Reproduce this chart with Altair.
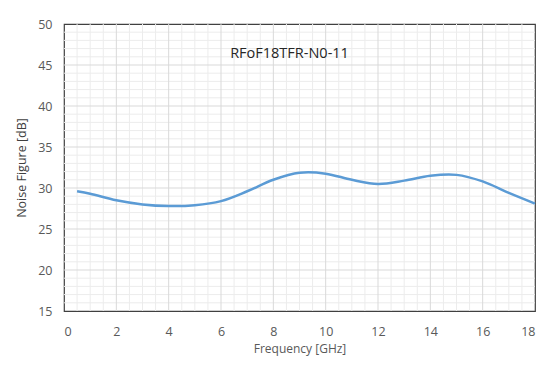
import altair as alt
import pandas as pd
import numpy as np

freq = [0.5, 1, 2, 3, 4, 5, 6, 7, 8, 9, 10, 11, 12, 13, 14, 15, 16, 17, 18]
nf = [29.6, 29.3, 28.5, 28.0, 27.8, 27.9, 28.4, 29.6, 31.0, 31.85, 31.75, 31.0, 30.5, 30.9, 31.5, 31.6, 30.8, 29.4, 28.1]

x_ticks = list(range(0, 19, 2))
y_ticks = list(range(15, 51, 5))
x_major = x_ticks[1:-1]
y_major = y_ticks[1:-1]
x_minor = [v for v in np.arange(0, 18.01, 0.5).tolist() if v not in x_ticks]
y_minor = [v for v in range(15, 51) if v not in y_ticks]

df = pd.DataFrame({"f": freq, "nf": nf})

xs = alt.Scale(domain=[0, 18], nice=False, zero=False)
ys = alt.Scale(domain=[15, 50], nice=False, zero=False)

minor_x = alt.Chart(pd.DataFrame({"v": x_minor})).mark_rule(color="#ececec", strokeWidth=1).encode(
    x=alt.X("v:Q", scale=xs))
minor_y = alt.Chart(pd.DataFrame({"v": y_minor})).mark_rule(color="#ececec", strokeWidth=1).encode(
    y=alt.Y("v:Q", scale=ys))
major_x = alt.Chart(pd.DataFrame({"v": x_major})).mark_rule(color="#d9d9d9", strokeWidth=1).encode(
    x=alt.X("v:Q", scale=xs))
major_y = alt.Chart(pd.DataFrame({"v": y_major})).mark_rule(color="#d9d9d9", strokeWidth=1).encode(
    y=alt.Y("v:Q", scale=ys))

line = alt.Chart(df).mark_line(color="#5b9bd5", strokeWidth=2.5, interpolate="catmull-rom").encode(
    x=alt.X("f:Q", scale=xs, axis=alt.Axis(
        title="Frequency [GHz]", values=x_ticks, grid=False, ticks=False, domain=False,
        labelColor="#595959", labelFont="Open Sans", labelFontSize=12.5, labelPadding=14,
        titleColor="#595959", titleFont="Open Sans", titleFontSize=12, titleFontWeight="normal",
        titlePadding=6)),
    y=alt.Y("nf:Q", scale=ys, axis=alt.Axis(
        title="Noise Figure [dB]", values=y_ticks, grid=False, ticks=False, domain=False,
        labelColor="#595959", labelFont="Open Sans", labelFontSize=12.5, labelPadding=12,
        titleColor="#404040", titleFont="Open Sans", titleFontSize=12.5, titleFontWeight="normal",
        titlePadding=9)),
)

chart = alt.layer(minor_x, minor_y, major_x, major_y, line).properties(
    width=471, height=287,
    title=alt.TitleParams("RFoF18TFR-N0-11", font="Open Sans", fontSize=14.5, fontWeight="normal",
                          color="#262626", anchor="middle", baseline="middle", offset=-23, dy=27, dx=-10),
    autosize=alt.AutoSizeParams(type="none"),
    padding={"left": 56, "top": 16, "right": 2, "bottom": 46},
).configure_view(stroke="#404040", strokeWidth=1.2)

chart.save("out.html", embed_options={"renderer": "svg", "actions": False})
